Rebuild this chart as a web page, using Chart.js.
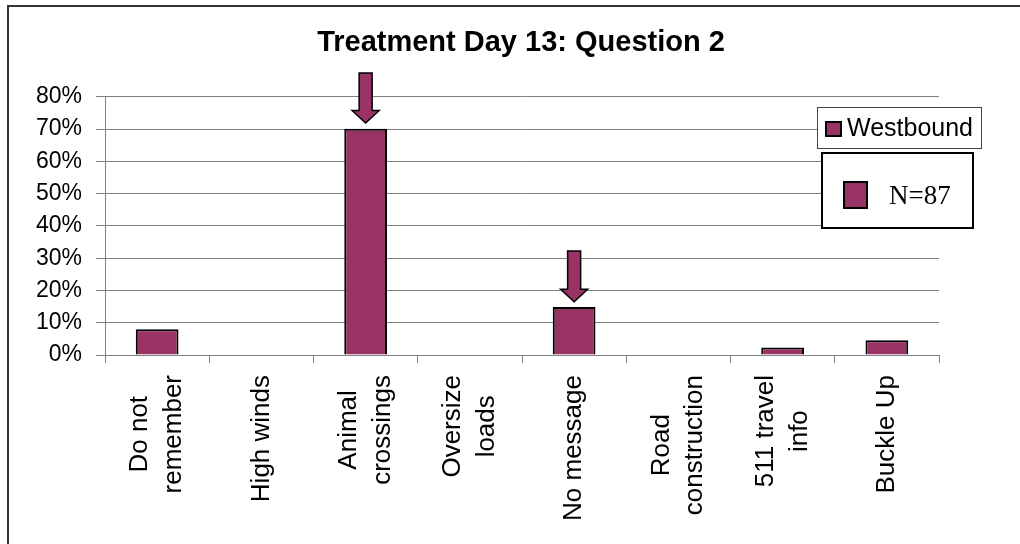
<!DOCTYPE html>
<html>
<head>
<meta charset="utf-8">
<script src="https://cdn.jsdelivr.net/npm/chart.js@4/dist/chart.umd.min.js"></script>
<style>
  html, body { margin: 0; padding: 0; background: #fff; overflow: hidden; }
  #frame { position: absolute; left: 7px; top: 5px; width: 1100px; height: 600px;
           border-top: 2px solid #333; border-left: 2px solid #333; }
  #wrap { position: absolute; left: 0; top: 0; width: 1020px; height: 544px; }
</style>
</head>
<body>
<div id="frame"></div>
<div id="wrap"><canvas id="chart" width="1020" height="544"></canvas></div>
<script>
// 類別與數值（百分比）
const categories = [
  ['Do not', 'remember'], 'High winds', ['Animal', 'crossings'], ['Oversize', 'loads'],
  'No message', ['Road', 'construction'], ['511 travel', 'info'], 'Buckle Up'
];
const westbound = [8.0, 0, 70.1, 0, 14.9, 0, 2.3, 4.6];
const yTicks = [0, 10, 20, 30, 40, 50, 60, 70, 80];
const sampleNote = 'N=87';

// 箭頭：指向哪個類別、起點與箭尖的數值
const arrowIndex = [2, 4];
const arrowTop = [87.4, 32.2];
const arrowTip = [71.9, 16.5];

const barColor = '#993366';
const xFont = '"Liberation Sans", Arial, sans-serif';
const xFontSize = 26, xLineHeight = 1.3;

// 多行標籤：整塊置中於刻度，每行置中對齊
const centerLabels = {
  id: 'centerLabels',
  beforeDraw(chart) {
    const ctx = chart.ctx;
    ctx.save();
    ctx.font = xFontSize + 'px ' + xFont;
    chart.scales.x.getLabelItems().forEach(item => {
      if (item._centered) return;
      const lines = Array.isArray(item.label) ? item.label : [item.label];
      const w = Math.max(...lines.map(s => ctx.measureText(s).width));
      item.options.translation[0] -= (lines.length - 1) * xFontSize * xLineHeight / 2;
      item.options.translation[1] += w / 2;
      item.options.textAlign = 'center';
      item._centered = true;
    });
    ctx.restore();
  }
};

// 畫箭頭
const arrowPlugin = {
  id: 'arrows',
  afterDatasetsDraw(chart) {
    const { ctx, scales: { x, y } } = chart;
    ctx.save();
    ctx.fillStyle = barColor;
    ctx.strokeStyle = '#000';
    ctx.lineWidth = 1.5;
    for (let i = 0; i < arrowIndex.length; i++) {
      const cx = x.getPixelForValue(arrowIndex[i]);
      const top = y.getPixelForValue(arrowTop[i]);
      const tip = y.getPixelForValue(arrowTip[i]);
      const base = tip - 12.5;
      ctx.beginPath();
      ctx.moveTo(cx - 6.5, top);
      ctx.lineTo(cx + 6.5, top);
      ctx.lineTo(cx + 6.5, base);
      ctx.lineTo(cx + 13.5, base);
      ctx.lineTo(cx, tip);
      ctx.lineTo(cx - 13.5, base);
      ctx.lineTo(cx - 6.5, base);
      ctx.closePath();
      ctx.fill();
      ctx.stroke();
    }
    ctx.restore();
  }
};

// 圖例與 N 值說明框
const legendBoxes = {
  id: 'legendBoxes',
  afterDraw(chart) {
    const ctx = chart.ctx;
    ctx.save();
    // Westbound 圖例
    ctx.fillStyle = '#fff';
    ctx.fillRect(817, 107, 164, 41);
    ctx.strokeStyle = '#444';
    ctx.lineWidth = 1;
    ctx.strokeRect(817.5, 107.5, 164, 41);
    ctx.fillStyle = barColor;
    ctx.fillRect(826, 122, 15, 14);
    ctx.strokeStyle = '#000';
    ctx.lineWidth = 2;
    ctx.strokeRect(826, 122, 15, 14);
    ctx.fillStyle = '#000';
    ctx.font = '25px "Liberation Sans", Arial, sans-serif';
    ctx.textBaseline = 'middle';
    ctx.fillText(chart.data.datasets[0].label, 847, 129);
    // N=87 框
    ctx.fillStyle = '#fff';
    ctx.fillRect(822, 153, 151, 75);
    ctx.strokeStyle = '#000';
    ctx.lineWidth = 2;
    ctx.strokeRect(822, 153, 151, 75);
    ctx.fillStyle = barColor;
    ctx.fillRect(844, 182, 23, 26);
    ctx.strokeRect(844, 182, 23, 26);
    ctx.fillStyle = '#000';
    ctx.font = '27px "Liberation Serif", "Times New Roman", serif';
    ctx.fillText(sampleNote, 889, 197);
    ctx.restore();
  }
};

chart = new Chart(document.getElementById('chart'), {
  type: 'bar',
  data: {
    labels: categories,
    datasets: [
      { label: 'Westbound', data: westbound, backgroundColor: barColor,
        borderColor: '#000', borderWidth: 2, borderSkipped: 'bottom',
        categoryPercentage: 1, barPercentage: 0.41 }
    ]
  },
  options: {
    responsive: false,
    animation: false,
    layout: { padding: { left: 22, right: 0, top: 5, bottom: 0 } },
    plugins: {
      legend: { display: false },
      tooltip: { enabled: false },
      title: {
        display: true,
        text: 'Treatment Day 13: Question 2',
        color: '#000',
        font: { family: xFont, size: 29, weight: 'bold', lineHeight: 1.2 },
        padding: { top: 21, bottom: 36 }
      }
    },
    scales: {
      x: {
        grid: { display: true, drawOnChartArea: false, offset: true, color: '#808080', tickLength: 8 },
        border: { color: '#808080' },
        ticks: {
          color: '#000', maxRotation: 90, minRotation: 90, padding: 12,
          font: { family: xFont, size: xFontSize, lineHeight: xLineHeight }
        },
        afterFit(scale) { scale.height = 189; }
      },
      y: {
        min: 0, max: 80,
        afterBuildTicks(scale) { scale.ticks = yTicks.map(v => ({ value: v })); },
        grid: { color: '#808080', tickLength: 9 },
        border: { color: '#808080' },
        ticks: {
          color: '#000', padding: 14,
          font: { family: xFont, size: 23 },
          callback: v => v + '%'
        },
        afterFit(scale) { scale.width = 83; }
      },
      y2: {
        position: 'right', min: 0, max: 1,
        grid: { display: false }, border: { display: false }, ticks: { display: false },
        afterFit(scale) { scale.width = 81; }
      }
    }
  },
  plugins: [centerLabels, arrowPlugin, legendBoxes]
});
</script>
</body>
</html>
